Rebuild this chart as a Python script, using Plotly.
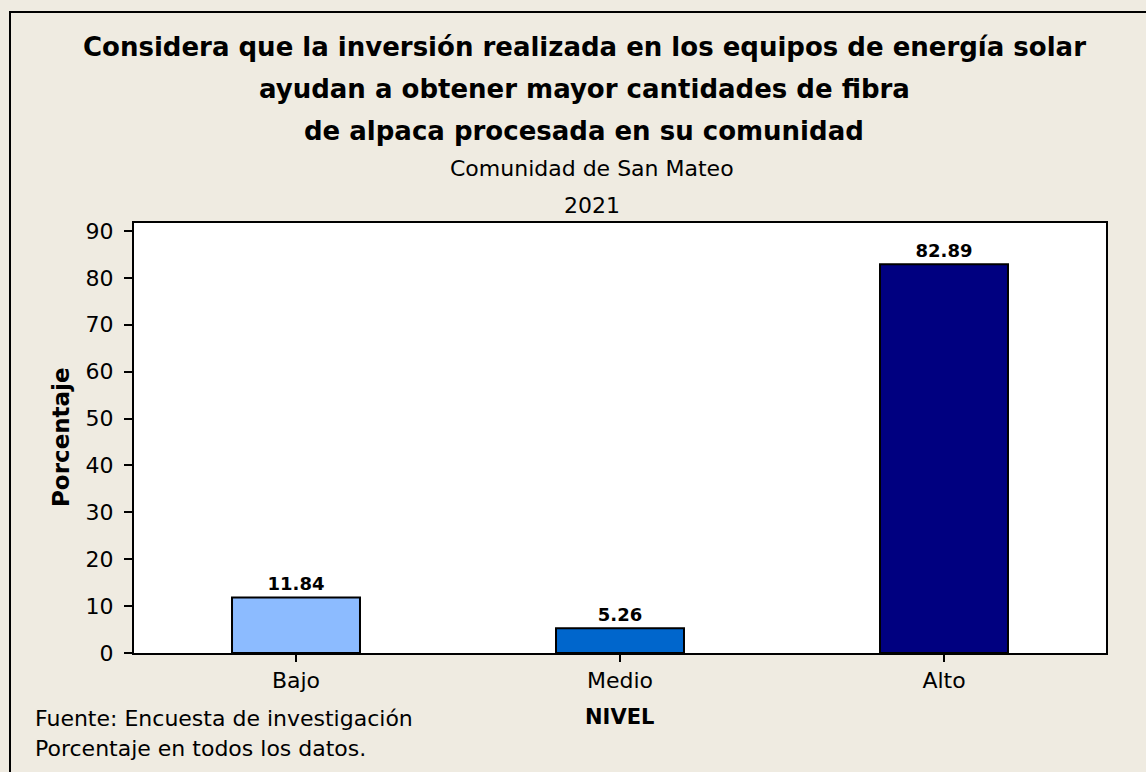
import plotly.graph_objects as go

# data
niveles = ["Bajo", "Medio", "Alto"]
porcentajes = [11.84, 5.26, 82.89]
colores = ["#8CBBFF", "#0066CC", "#000080"]
y_ticks = [0, 10, 20, 30, 40, 50, 60, 70, 80, 90]

W, H = 1146, 772
L, R, T, B = 134, 40, 223, 119
pw, ph = W - L - R, H - T - B


def px(x):
    return (x - L) / pw


def py(y):
    return (H - B - y) / ph


FONT = "DejaVu Sans"
BG = "#EFEBE1"

fig = go.Figure()
fig.add_trace(go.Bar(
    x=niveles,
    y=porcentajes,
    marker=dict(color=colores, line=dict(color="black", width=2)),
    width=0.395,
    texttemplate="<b>%{y:.2f}</b>",
    textposition="outside",
    textfont=dict(family=FONT, size=18, color="black"),
    cliponaxis=False,
    showlegend=False,
))

title_lines = [
    "Considera que la inversión realizada en los equipos de energía solar",
    "ayudan a obtener mayor cantidades de fibra",
    "de alpaca procesada en su comunidad",
]
annotations = []
for i, t in enumerate(title_lines):
    annotations.append(dict(
        text="<b>" + t + "</b>", x=px(584), y=py([47, 89, 131][i]),
        xref="paper", yref="paper", showarrow=False,
        xanchor="center", yanchor="middle",
        font=dict(family=FONT, size=26, color="black")))
for t, yy in [("Comunidad de San Mateo", 168), ("2021", 205)]:
    annotations.append(dict(
        text=t, x=px(592), y=py(yy), xref="paper", yref="paper",
        showarrow=False, xanchor="center", yanchor="middle",
        font=dict(family=FONT, size=22, color="black")))
annotations.append(dict(
    text="<b>NIVEL</b>", x=px(619), y=py(717), xref="paper", yref="paper",
    showarrow=False, xanchor="center", yanchor="middle",
    font=dict(family=FONT, size=21, color="black")))
annotations.append(dict(
    text="<b>Porcentaje</b>", x=px(61), y=py(437), xref="paper", yref="paper",
    showarrow=False, xanchor="center", yanchor="middle", textangle=-90,
    font=dict(family=FONT, size=23, color="black")))
for t, yy in [("Fuente: Encuesta de investigación", 718),
              ("Porcentaje en todos los datos.", 748)]:
    annotations.append(dict(
        text=t, x=px(33), y=py(yy), xref="paper", yref="paper",
        showarrow=False, xanchor="left", yanchor="middle",
        font=dict(family=FONT, size=22, color="black")))

fig.update_layout(
    width=W, height=H,
    margin=dict(l=L, r=R, t=T, b=B, pad=0),
    paper_bgcolor=BG,
    plot_bgcolor="white",
    font=dict(family=FONT, size=22, color="black"),
    annotations=annotations,
    xaxis=dict(
        range=[-0.5, 2.5], showgrid=False, zeroline=False,
        showline=True, linecolor="black", linewidth=2, mirror=True,
        ticks="outside", ticklen=7, tickwidth=2, tickcolor="black",
        tickfont=dict(family=FONT, size=22),
    ),
    yaxis=dict(
        range=[0, 91.7], tickvals=y_ticks, showgrid=False, zeroline=False,
        showline=True, linecolor="black", linewidth=2, mirror=True,
        ticks="outside", ticklen=8, tickwidth=2, tickcolor="black",
        tickfont=dict(family=FONT, size=22), ticklabelstandoff=6,
    ),
    shapes=[dict(
        type="rect", xref="paper", yref="paper",
        x0=px(10), x1=px(W + 20), y0=py(H + 20), y1=py(12),
        line=dict(color="black", width=2), fillcolor="rgba(0,0,0,0)",
        layer="below",
    )],
)

fig.write_html("out.html", config={"displayModeBar": False},
               post_script="document.body.style.margin='0';")
